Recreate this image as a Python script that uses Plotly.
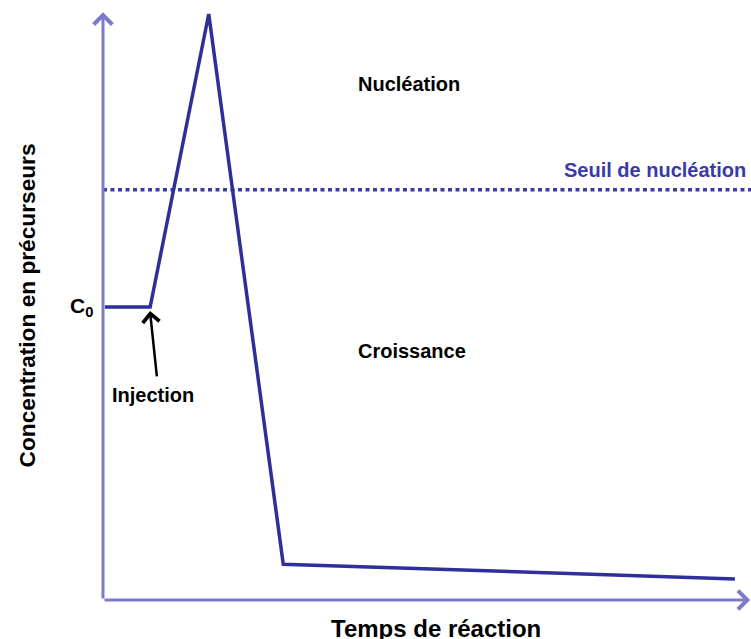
import plotly.graph_objects as go

# Data (arbitrary units): time vs precursor concentration
time = [0.3, 7.4, 16.6, 28.3, 99.2]
concentration = [50.0, 50.0, 100.0, 6.1, 3.6]
c0 = 50.0
nucleation_threshold = 70.0
x_axis_end = 101.6
y_axis_end = 100.3

# pixel mapping helpers (plot area = whole figure)
W, H = 751, 639
PX0, PY0 = 103, 600          # origin pixel
KX, KY = 6.37, 5.86          # px per unit

xr = [-PX0 / KX, (W - PX0) / KX]
yr = [-(H - PY0) / KY, PY0 / KY]

axis_col = "#7b7bca"
line_col = "#2f2f9c"
thr_col = "#3a3aa6"
font_fam = "Liberation Sans, Arial, sans-serif"

fig = go.Figure()

# nucleation threshold (dotted)
fig.add_trace(go.Scatter(
    x=[0, xr[1]], y=[nucleation_threshold, nucleation_threshold],
    mode="lines", line=dict(color=thr_col, width=3.5, dash="4px,3.5px"),
    hoverinfo="skip", showlegend=False))

# concentration curve
fig.add_trace(go.Scatter(
    x=time, y=concentration, mode="lines",
    line=dict(color=line_col, width=3.5), showlegend=False))

ann = []
# axes with arrows
ann.append(dict(x=0, y=y_axis_end, ax=0, ay=0, xref="x", yref="y", axref="x", ayref="y",
                showarrow=True, arrowhead=4, arrowsize=1.2, arrowwidth=3, arrowcolor=axis_col, text=""))
ann.append(dict(x=x_axis_end, y=0, ax=0, ay=0, xref="x", yref="y", axref="x", ayref="y",
                showarrow=True, arrowhead=4, arrowsize=1.2, arrowwidth=3, arrowcolor=axis_col, text=""))
# injection arrow
ann.append(dict(x=7.38, y=49.3, ax=8.48, ay=37.9, xref="x", yref="y", axref="x", ayref="y",
                showarrow=True, arrowhead=4, arrowsize=1.3, arrowwidth=2.5, arrowcolor="black", text=""))

bold = dict(family=font_fam, size=20, color="black")
ann += [
    dict(x=48.0, y=88.0, text="<b>Nucléation</b>", showarrow=False, font=bold),
    dict(x=48.5, y=42.5, text="<b>Croissance</b>", showarrow=False, font=bold),
    dict(x=7.85, y=35.0, text="<b>Injection</b>", showarrow=False, font=bold),
    dict(x=86.6, y=73.4, text="<b>Seuil de nucléation</b>", showarrow=False,
         font=dict(family=font_fam, size=20, color=thr_col)),
    dict(x=-1.2, y=c0, text="<b>C<sub>0</sub></b>", showarrow=False, xanchor="right",
         font=dict(family=font_fam, size=21, color="black")),
    dict(x=52.2, y=-4.9, text="<b>Temps de réaction</b>", showarrow=False,
         font=dict(family=font_fam, size=24, color="black")),
    dict(x=-11.9, y=50.3, text="<b>Concentration en précurseurs</b>", showarrow=False, textangle=-90,
         font=dict(family=font_fam, size=22.7, color="black")),
]

fig.update_layout(
    width=W, height=H, margin=dict(l=0, r=0, t=0, b=0),
    paper_bgcolor="white", plot_bgcolor="white",
    xaxis=dict(range=xr, visible=False, fixedrange=True),
    yaxis=dict(range=yr, visible=False, fixedrange=True),
    annotations=ann, showlegend=False)

fig.write_html("out.html", config={"displayModeBar": False},
               post_script="document.body.style.margin='0';document.body.style.overflow='hidden';")
